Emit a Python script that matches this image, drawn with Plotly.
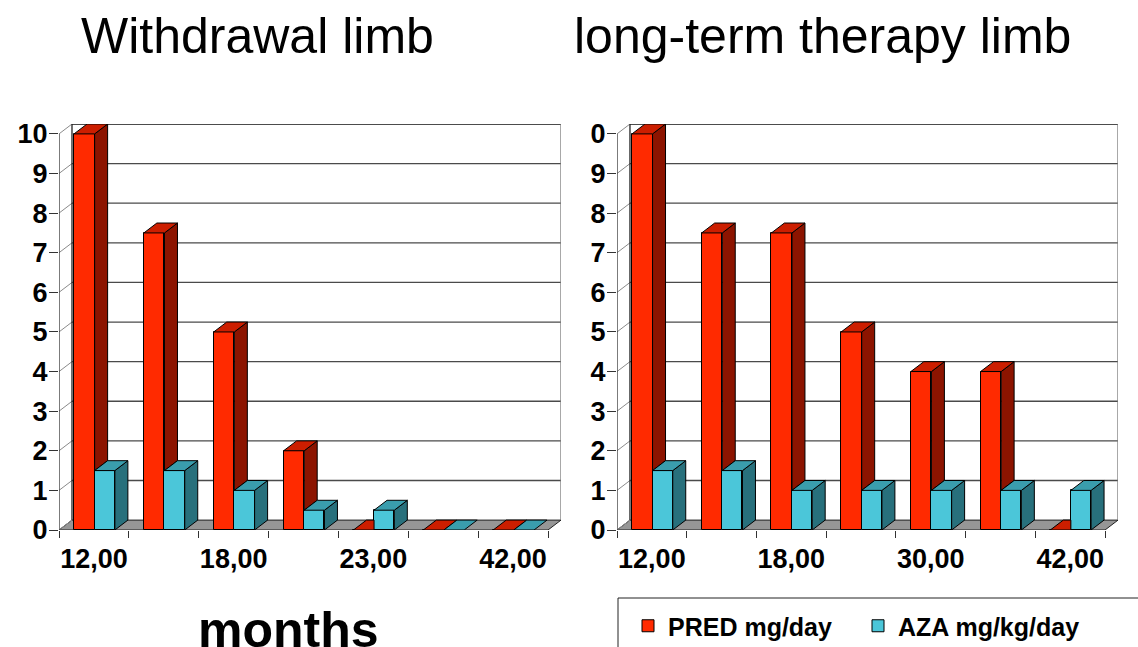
import plotly.graph_objects as go

# ---------------- data ----------------
categories_left = ["12,00", "", "18,00", "", "23,00", "", "42,00"]
pred_left = [10, 7.5, 5, 2, 0, 0, 0]
aza_left = [1.5, 1.5, 1, 0.5, 0.5, 0, 0]

categories_right = ["12,00", "", "18,00", "", "30,00", "", "42,00"]
pred_right = [10, 7.5, 7.5, 5, 4, 4, 0]
aza_right = [1.5, 1.5, 1, 1, 1, 1, 1]

y_tick_values = list(range(0, 11))
y_ticktext_left = [str(v) for v in y_tick_values]
y_ticktext_right = [str(v) for v in y_tick_values[:-1]] + ["0"]

series_names = ["PRED mg/day", "AZA mg/kg/day"]
panel_titles = ["Withdrawal limb", "long-term therapy limb"]
x_axis_title = "months"

# ---------------- style ----------------
W, H = 1138, 647
DX, DY = 0.186, 0.25          # depth offset of the 3-D effect (axis units)
RED = dict(front="#FF2A00", top="#CC1E00", side="#8C1400")
CYAN = dict(front="#4BC6D9", top="#3A9DAD", side="#28707C")
FLOOR = "#969696"
FONT = "Liberation Sans, Arial, sans-serif"
RED_OFF, RED_W = 0.215, 0.295
CYAN_OFF, CYAN_W = 0.51, 0.29

fig = go.Figure()
shapes = []


def add_panel(xref, yref, cats, pred, aza, show_legend):
    n = len(cats)
    xa = "x" if xref == "x" else "x2"
    ya = "y" if yref == "y" else "y2"
    # floor
    shapes.append(dict(type="path", xref=xref, yref=yref, layer="below",
                       path=f"M 0 0 L {n} 0 L {n+DX} {DY} L {DX} {DY} Z",
                       fillcolor=FLOOR, line=dict(color="#202020", width=1)))
    # back-wall gridlines and side-wall diagonals
    for v in y_tick_values[1:]:
        top = v == y_tick_values[-1]
        shapes.append(dict(type="line", xref=xref, yref=yref, layer="below",
                           x0=DX, x1=n + DX, y0=v + DY, y1=v + DY,
                           line=dict(color="#111111" if top else "#4a4a4a", width=1.3)))
    for v in y_tick_values:
        shapes.append(dict(type="line", xref=xref, yref=yref, layer="below",
                           x0=0, x1=DX, y0=v, y1=v + DY,
                           line=dict(color="#8a8a8a", width=1)))
    # back wall vertical edges
    shapes.append(dict(type="line", xref=xref, yref=yref, layer="below",
                       x0=DX, x1=DX, y0=DY, y1=y_tick_values[-1] + DY,
                       line=dict(color="#222222", width=1.3)))
    shapes.append(dict(type="line", xref=xref, yref=yref, layer="below",
                       x0=n + DX, x1=n + DX, y0=DY, y1=y_tick_values[-1] + DY,
                       line=dict(color="#7a7a7a", width=1.3)))
    # front-left axis line
    shapes.append(dict(type="line", xref=xref, yref=yref, layer="below",
                       x0=0, x1=0, y0=0, y1=y_tick_values[-1],
                       line=dict(color="#333333", width=1.3)))

    red_x = [i + RED_OFF + RED_W / 2 for i in range(n)]
    cyan_x = [i + CYAN_OFF + CYAN_W / 2 for i in range(n)]
    fig.add_trace(go.Bar(x=red_x, y=pred, width=RED_W, name=series_names[0],
                         marker=dict(color=RED["front"], line=dict(color="black", width=1)),
                         xaxis=xa, yaxis=ya, showlegend=show_legend, legendgroup="pred"))
    fig.add_trace(go.Bar(x=cyan_x, y=aza, width=CYAN_W, name=series_names[1],
                         marker=dict(color=CYAN["front"], line=dict(color="black", width=1)),
                         xaxis=xa, yaxis=ya, showlegend=show_legend, legendgroup="aza"))

    def faces(xs, w, vals, clip_vals):
        tx, ty, sx, sy = [], [], [], []
        for xc, v, c in zip(xs, vals, clip_vals):
            x0, x1 = xc - w / 2, xc + w / 2
            if c is not None and c > v:
                tx += [x0, x1, x1, x0 + DX, x0, None]
                ty += [v, v, v + DY, v + DY, v, None]
            else:
                tx += [x0, x1, x1 + DX, x0 + DX, x0, None]
                ty += [v, v, v + DY, v + DY, v, None]
            b = 0 if c is None else min(v, c)
            if v > b:
                sx += [x1, x1 + DX, x1 + DX, x1, x1, None]
                sy += [b, b + DY, v + DY, v, b, None]
        return tx, ty, sx, sy

    for xs, w, vals, clip, col, grp in [
        (red_x, RED_W, pred, aza, RED, "pred"),
        (cyan_x, CYAN_W, aza, [None] * n, CYAN, "aza"),
    ]:
        tx, ty, sx, sy = faces(xs, w, vals, clip)
        fig.add_trace(go.Scatter(x=sx, y=sy, mode="lines", fill="toself",
                                 fillcolor=col["side"], line=dict(color="black", width=1),
                                 xaxis=xa, yaxis=ya, showlegend=False, hoverinfo="skip"))
        fig.add_trace(go.Scatter(x=tx, y=ty, mode="lines", fill="toself",
                                 fillcolor=col["top"], line=dict(color="black", width=1),
                                 xaxis=xa, yaxis=ya, showlegend=False, hoverinfo="skip"))


add_panel("x", "y", categories_left, pred_left, aza_left, True)
add_panel("x2", "y2", categories_right, pred_right, aza_right, False)

tickfont = dict(family=FONT, size=27, color="black", weight="bold")
ydom = [(H - 530) / H, (H - 124) / H]


def xaxis(domain, cats, anchor):
    n = len(cats)
    return dict(domain=domain, range=[0, n + DX], anchor=anchor,
                showgrid=False, zeroline=False, showline=False,
                tickmode="array", tickvals=[i + 0.5 for i in range(n)], ticktext=cats,
                ticks="", tickfont=tickfont, ticklabelstandoff=10,
                minor=dict(tickmode="array", tickvals=list(range(n + 1)), ticks="outside",
                           ticklen=7, tickcolor="#333333", tickwidth=1, showgrid=False),
                fixedrange=True)


def yaxis(ticktext, anchor):
    return dict(domain=ydom, range=[0, y_tick_values[-1] + DY], anchor=anchor,
                showgrid=False, zeroline=False, showline=False,
                tickmode="array", tickvals=y_tick_values, ticktext=ticktext,
                ticks="outside", ticklen=9, tickcolor="#333333", tickwidth=1,
                tickfont=tickfont, ticklabelstandoff=-4, fixedrange=True)


annotations = [
    dict(text=panel_titles[0], x=257 / W, y=1 - 36 / H, xref="paper", yref="paper",
         showarrow=False, xanchor="center", yanchor="middle",
         font=dict(family=FONT, size=50, color="black")),
    dict(text=panel_titles[1], x=822 / W, y=1 - 36 / H, xref="paper", yref="paper",
         showarrow=False, xanchor="center", yanchor="middle",
         font=dict(family=FONT, size=50, color="black")),
    dict(text=x_axis_title, x=288 / W, y=1 - 630 / H, xref="paper", yref="paper",
         showarrow=False, xanchor="center", yanchor="middle",
         font=dict(family=FONT, size=50, color="black", weight="bold")),
]

# legend frame
shapes.append(dict(type="rect", xref="paper", yref="paper",
                   x0=618 / W, x1=1.02, y0=-0.02, y1=1 - 598 / H,
                   line=dict(color="#222222", width=1), fillcolor="white", layer="below"))

fig.update_layout(
    width=W, height=H, autosize=False,
    margin=dict(l=0, r=0, t=0, b=0, autoexpand=False),
    paper_bgcolor="white", plot_bgcolor="rgba(0,0,0,0)",
    barmode="overlay", bargap=0,
    xaxis=xaxis([59 / W, 561 / W], categories_left, "y"),
    yaxis=yaxis(y_ticktext_left, "x"),
    xaxis2=xaxis([617 / W, 1118 / W], categories_right, "y2"),
    yaxis2=yaxis(y_ticktext_right, "x2"),
    shapes=shapes, annotations=annotations,
    legend=dict(orientation="h", x=628 / W, xanchor="left", y=1 - 626 / H, yanchor="middle",
                font=dict(family=FONT, size=25, color="black", weight="bold"),
                entrywidth=185, entrywidthmode="pixels",
                bgcolor="rgba(0,0,0,0)", borderwidth=0, traceorder="normal"),
    showlegend=True,
)

fig.write_html("out.html")
